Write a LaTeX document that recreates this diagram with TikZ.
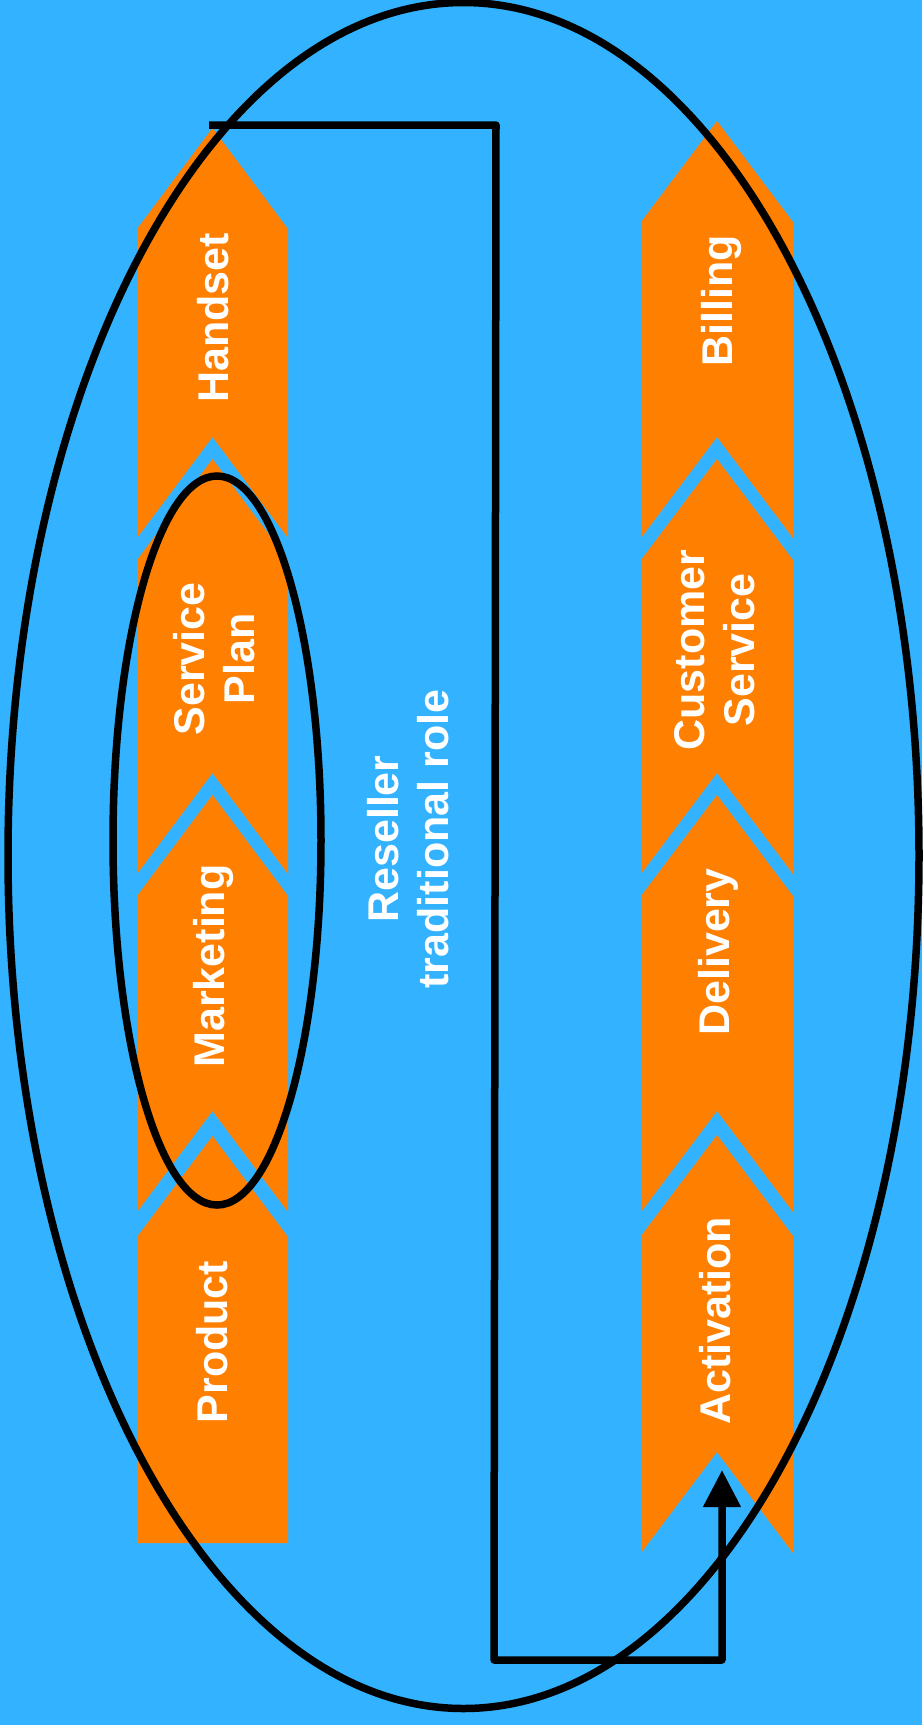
\documentclass[tikz,border=0pt]{standalone}
\usepackage{fontspec}
\setmainfont{Liberation Sans}
\usetikzlibrary{arrows.meta}
\definecolor{bgblue}{RGB}{51,179,255}
\definecolor{chevorange}{RGB}{255,128,0}
\tikzset{
  chev/.style={fill=chevorange, draw=none},
  lbl/.style={text=white, font=\fontsize{43}{50}\selectfont\bfseries, align=center, rotate=90, inner sep=0pt},
  ring/.style={draw=black, line width=7.5pt},
  conn/.style={draw=black, line width=7.5pt, line join=round},
}
% chevron: center x, half width, apex y, notch apex y, tip height
\newcommand{\chevron}[5]{%
  \fill[chev] (#1,#3) -- ({#1+#2},{#3+#5}) -- ({#1+#2},{#4+#5}) -- (#1,#4) -- ({#1-#2},{#4+#5}) -- ({#1-#2},{#3+#5}) -- cycle;}
\begin{document}
\begin{tikzpicture}[x=1pt,y=-1pt]
\useasboundingbox (0,0) rectangle (922,1725);
\fill[bgblue] (0,0) rectangle (922,1725);

% left column
\chevron{212.5}{75.5}{128}{437}{101}
\chevron{212.5}{75.5}{459}{773}{101}
\chevron{212.5}{75.5}{795}{1111}{101}
\fill[chev] (212.5,1136) -- (288,1237) -- (288,1543) -- (137,1543) -- (137,1237) -- cycle;

% right column
\chevron{717}{76}{121}{437}{101}
\chevron{717}{76}{459}{773}{101}
\chevron{717}{76}{795}{1111}{101}
\chevron{717}{76}{1135}{1452}{101}

% labels
\node[lbl] (handset) at (213,318) {Handset};
\node[lbl] (plan) at (214,659) {Service\\Plan};
\node[lbl] (marketing) at (213,966) {Marketing};
\node[lbl] (product) at (212,1342) {Product};
\node[lbl] (billing) at (721,301) {Billing};
\node[lbl] (custserv) at (715,650) {Customer\\Service};
\node[lbl] (delivery) at (718,952) {Delivery};
\node[lbl] (activation) at (715,1321) {Activation};
\node[lbl] (reseller) at (408,839) {Reseller\\traditional role};

% ellipses
\draw[ring] (463.5,855.5) ellipse [x radius=455.5pt, y radius=853pt];
\draw[ring] (217,840.5) ellipse [x radius=104pt, y radius=364.5pt];

% connector
\coordinate (cstart) at (209,125);
\coordinate (c1) at (496,125);
\coordinate (c2) at (494,1660);
\coordinate (c3) at (722,1660);
\coordinate (ctip) at (722,1470);
\draw[conn, -{Triangle[length=37pt,width=36pt]}] (cstart) -- (c1) -- (c2) -- (c3) -- (ctip);
\end{tikzpicture}
\end{document}
